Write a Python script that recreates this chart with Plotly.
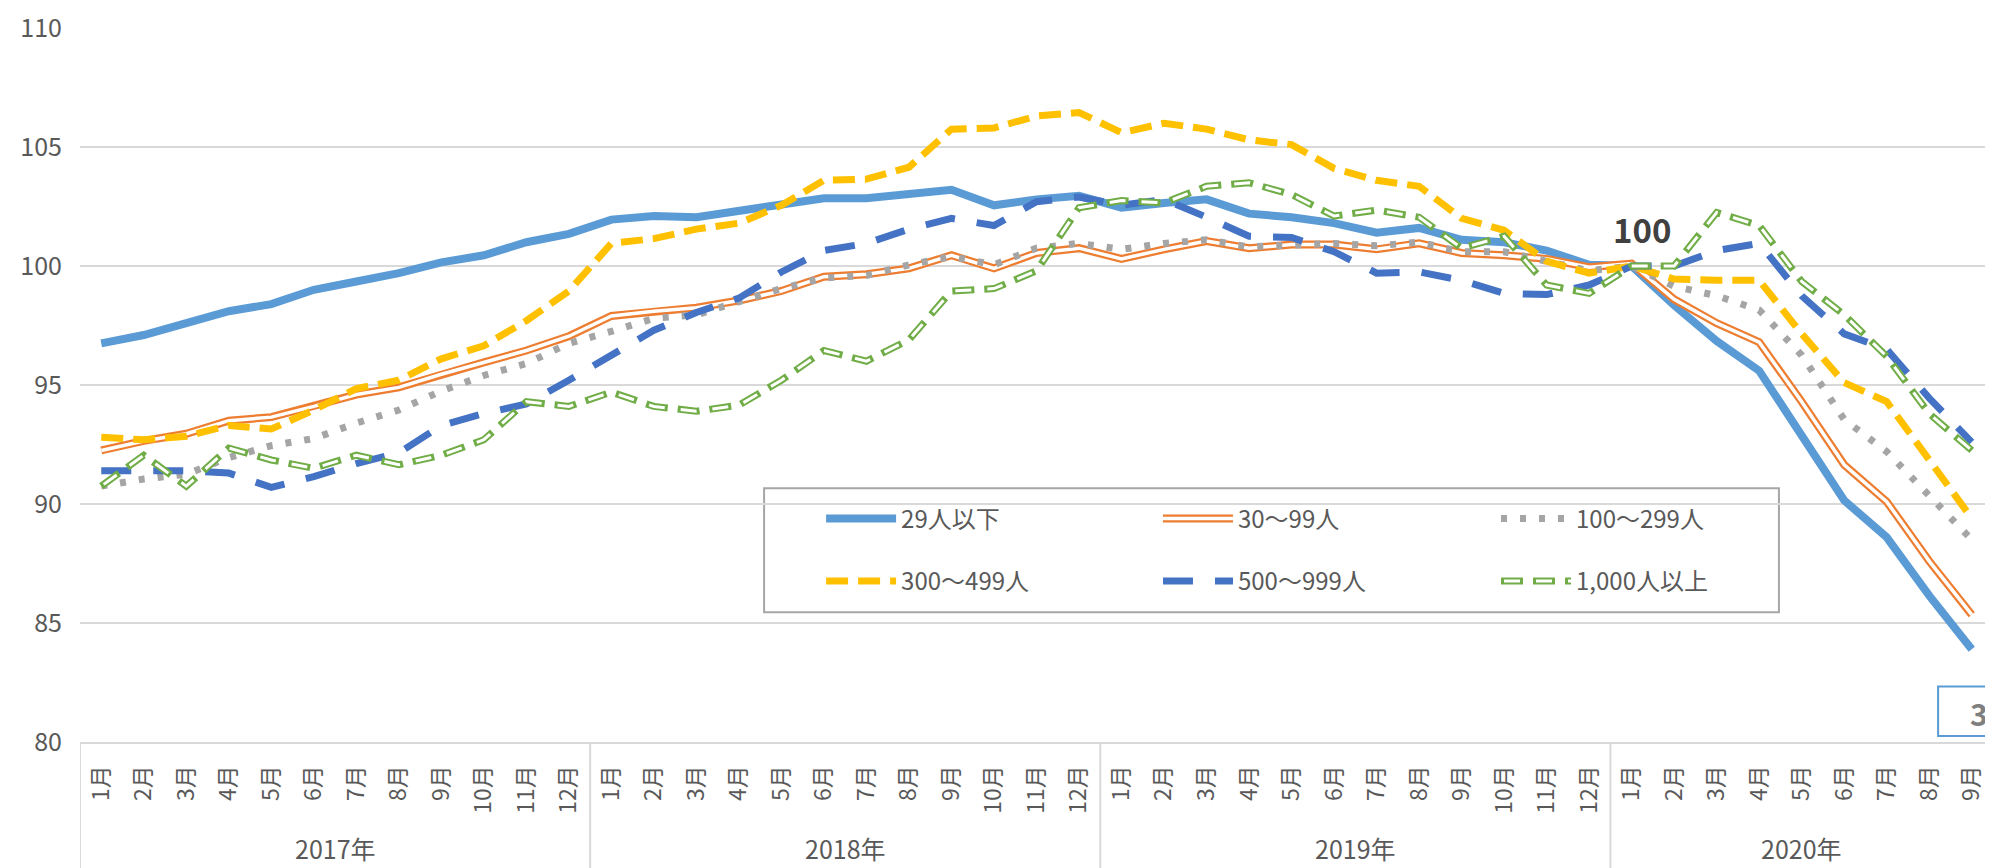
import plotly.graph_objects as go

FONT = "Noto Sans CJK JP"
TEXT = "#595959"
GRID = "#D9D9D9"

# x categories: year group + month
year_names = ["2017年", "2018年", "2019年", "2020年"]
months_per_year = [12, 12, 12, 9]
month_names = ["1月", "2月", "3月", "4月", "5月", "6月",
               "7月", "8月", "9月", "10月", "11月", "12月"]

x_month = []
for n in months_per_year:
    x_month += month_names[:n]
x_idx = list(range(len(x_month)))

# index values (2020年1月 = 100)
emp_29_under = [96.75, 97.1, 97.6, 98.1, 98.4, 99.0, 99.35, 99.7, 100.15, 100.45, 101.0, 101.35,
                101.95, 102.1, 102.05, 102.3, 102.6, 102.85, 102.85, 103.0, 103.2, 102.55, 102.8, 102.95,
                102.45, 102.65, 102.8, 102.2, 102.05, 101.8, 101.4, 101.6, 101.1, 101.0, 100.65, 100.05,
                100.0, 98.35, 96.85, 95.6, 92.85, 90.15, 88.6, 86.15, 83.9]
emp_30_99 = [92.25, 92.65, 92.95, 93.5, 93.65, 94.1, 94.6, 94.9, 95.45, 95.95, 96.45, 97.05,
             97.9, 98.1, 98.25, 98.55, 98.95, 99.55, 99.65, 99.9, 100.45, 99.9, 100.55, 100.75,
             100.3, 100.7, 101.05, 100.75, 100.9, 100.9, 100.7, 100.95, 100.55, 100.45, 100.3, 99.95,
             100.1, 98.6, 97.6, 96.8, 94.3, 91.65, 90.1, 87.6, 85.35]
emp_100_299 = [90.75, 91.05, 91.25, 91.95, 92.45, 92.75, 93.4, 93.95, 94.75, 95.4, 95.9, 96.75,
               97.25, 97.8, 97.95, 98.5, 99.05, 99.5, 99.6, 100.05, 100.4, 100.05, 100.75, 100.95,
               100.7, 100.95, 101.1, 100.8, 100.9, 100.95, 100.85, 101.0, 100.6, 100.6, 100.2, 99.8,
               100.0, 99.15, 98.75, 98.15, 96.25, 93.55, 92.2, 90.35, 88.5]
emp_300_499 = [92.8, 92.7, 92.85, 93.3, 93.15, 93.95, 94.85, 95.2, 96.1, 96.65, 97.7, 98.95,
               100.95, 101.15, 101.55, 101.8, 102.55, 103.6, 103.65, 104.15, 105.75, 105.8, 106.3, 106.45,
               105.6, 106.0, 105.75, 105.3, 105.1, 104.1, 103.6, 103.35, 102.0, 101.5, 100.2, 99.7,
               100.0, 99.45, 99.4, 99.4, 97.15, 95.1, 94.3, 91.8, 89.4]
emp_500_999 = [91.4, 91.4, 91.4, 91.3, 90.7, 91.15, 91.7, 92.15, 93.3, 93.8, 94.2, 95.2,
               96.25, 97.3, 98.05, 98.65, 99.75, 100.65, 100.95, 101.55, 102.0, 101.7, 102.7, 102.9,
               102.55, 102.8, 102.05, 101.25, 101.2, 100.6, 99.7, 99.75, 99.4, 98.85, 98.8, 99.2,
               100.0, 100.0, 100.65, 100.95, 98.75, 97.15, 96.5, 94.45, 92.6]
emp_1000_over = [90.75, 92.05, 90.75, 92.35, 91.85, 91.5, 92.05, 91.65, 92.05, 92.7, 94.3, 94.1,
                 94.7, 94.1, 93.9, 94.15, 95.2, 96.45, 96.0, 96.9, 98.95, 99.05, 99.8, 102.45,
                 102.75, 102.65, 103.35, 103.5, 103.0, 102.1, 102.35, 102.05, 100.75, 101.25, 99.2, 98.85,
                 100.0, 100.0, 102.25, 101.7, 99.35, 97.95, 96.2, 93.8, 92.25]

fig = go.Figure()


def add_line(values, name, color, width, dash, legend):
    fig.add_trace(go.Scatter(
        x=x_idx, y=values, mode="lines", name=name,
        line=dict(color=color, width=width, dash=dash),
        legend=legend, customdata=x_month,
        hovertemplate="%{customdata}: %{y}<extra>" + name + "</extra>",
    ))


add_line(emp_29_under, "29人以下", "#5B9BD5", 8, "solid", "legend")
# double line: orange outer + white core
add_line(emp_30_99, "30～99人", "#ED7D31", 8, "solid", "legend2")
add_line(emp_30_99, "30～99人", "#FFFFFF", 3.5, "solid", "legend7")
add_line(emp_100_299, "100～299人", "#A5A5A5", 7, "6px,13px", "legend3")
add_line(emp_300_499, "300～499人", "#FFC000", 7, "22px,10px", "legend4")
add_line(emp_500_999, "500～999人", "#4472C4", 7, "30px,22px", "legend5")
# outlined dashes: green dash + shorter white core dash
add_line(emp_1000_over, "1,000人以上", "#70AD47", 7, "22px,10px", "legend6")
add_line(emp_1000_over, "1,000人以上", "#FFFFFF", 3, "0px,3px,16px,13px", "legend8")

# legend grid positions (paper coords)
col_x = [0.3874, 0.5635, 0.7402]
row_y = [0.3123, 0.2249]
legend_pos = {
    "legend": (0, 0), "legend2": (1, 0), "legend3": (2, 0),
    "legend4": (0, 1), "legend5": (1, 1), "legend6": (2, 1),
    "legend7": (1, 0), "legend8": (2, 1),
}
legend_layout = {}
for key, (c, r) in legend_pos.items():
    overlay = key in ("legend7", "legend8")
    legend_layout[key] = dict(
        x=col_x[c], y=row_y[r], xanchor="left", yanchor="middle",
        bgcolor="rgba(0,0,0,0)", borderwidth=0, itemwidth=70,
        font=dict(family=FONT, size=24,
                  color="rgba(0,0,0,0)" if overlay else TEXT),
    )

# year group labels and dividers under the month ticks
annotations = []
shapes = []
start = 0
for yname, n in zip(year_names, months_per_year):
    annotations.append(dict(
        text=yname, xref="x", yref="paper", x=start + (n - 1) / 2, y=-0.149,
        showarrow=False, xanchor="center", yanchor="middle",
        font=dict(family=FONT, size=25, color=TEXT)))
    shapes.append(dict(type="line", xref="x", yref="paper",
                       x0=start - 0.5, x1=start - 0.5, y0=0, y1=-0.2,
                       line=dict(color=GRID, width=2)))
    start += n
shapes.append(dict(type="line", xref="x", yref="paper",
                   x0=start - 0.5, x1=start - 0.5, y0=0, y1=-0.2,
                   line=dict(color=GRID, width=2)))

shapes += [
    # legend frame
    dict(type="rect", xref="paper", yref="paper",
         x0=0.3576, x1=0.8881, y0=0.1818, y1=0.3554,
         line=dict(color="#A6A6A6", width=2), fillcolor="white",
         layer="between"),
    # partial label box at bottom right
    dict(type="rect", xref="paper", yref="paper",
         x0=0.9713, x1=1.03, y0=0.0083, y1=0.0777,
         line=dict(color="#5B9BD5", width=2), fillcolor="white",
         layer="between"),
]
annotations += [
    dict(text="100", xref="paper", yref="paper", x=0.8165, y=0.718,
         showarrow=False, xanchor="center", yanchor="middle",
         font=dict(family=FONT, size=33, color="#404040", weight="bold")),
    dict(text="3", xref="paper", yref="paper", x=0.9984, y=0.0408,
         showarrow=False, xanchor="right", yanchor="middle",
         font=dict(family=FONT, size=30, color="#7F7F7F", weight="bold")),
]

# page body has an 8px margin, so the figure is 8px smaller than the window
fig.update_layout(
    width=1985, height=860,
    margin=dict(l=72, r=0, t=14, b=126),
    paper_bgcolor="white", plot_bgcolor="white",
    font=dict(family=FONT, color=TEXT),
    showlegend=True,
    **legend_layout,
    xaxis=dict(
        range=[-0.5, len(x_idx) - 0.5],
        tickmode="array", tickvals=x_idx, ticktext=x_month, tickangle=-90,
        tickfont=dict(family=FONT, size=23, color=TEXT),
        showgrid=False, zeroline=False, showline=True, linecolor=GRID, linewidth=2,
        ticks="", ticklabelstandoff=12,
    ),
    yaxis=dict(
        range=[80, 110], tick0=80, dtick=5,
        showgrid=True, gridcolor=GRID, gridwidth=2,
        zeroline=False, showline=False, ticks="",
        tickfont=dict(family=FONT, size=25, color=TEXT),
        ticklabelstandoff=17, ticklabeloverflow="allow",
    ),
    shapes=shapes,
    annotations=annotations,
)

fig.write_html("out.html")
